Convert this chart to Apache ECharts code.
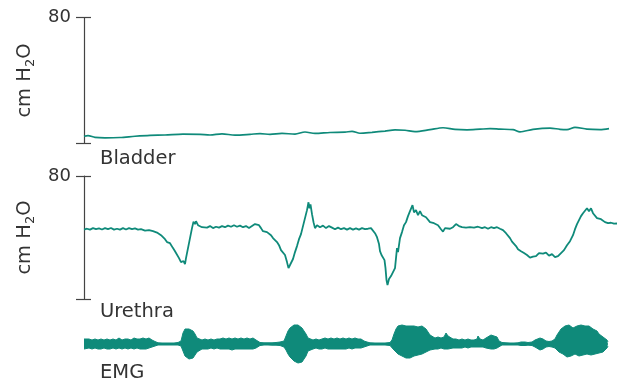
<!DOCTYPE html>
<html><head><meta charset="utf-8">
<script src="https://cdn.jsdelivr.net/npm/echarts@6/dist/echarts.min.js"></script>
<style>html,body{margin:0;padding:0;background:#fff}#c{width:619px;height:383px}</style>
</head><body><div id="c"></div>
<script>
// x positions in trace sample units (horizontal position along the recording)
const bladderX = [84,88,95,105,120,135,150,165,183,200,210,222,235,250,260,270,282,295,305,315,330,345,352,360,372,385,395,405,415,430,443,455,467,480,490,500,513,520,533,550,560,567,575,587,600,609];
const bladderY = [4.6,5.0,3.9,3.6,3.8,4.6,5.2,5.4,6.0,5.8,5.4,6.1,5.3,5.8,6.3,5.8,6.4,6.0,7.3,6.4,7.0,7.2,7.7,6.5,7.1,7.9,8.6,8.4,7.6,8.8,10.0,9.0,8.7,9.1,9.4,9.1,8.8,7.4,9.0,9.8,9.0,8.8,10.3,9.1,8.8,9.4];

const urethraX = [84,87,90,93,96,99,102,105,108,111,114,117,120,123,126,129,132,135,138,141,145,149,153,157,161,165,167,170,173,175,177,179,181,182,183.5,185,186,188,190,192,193.5,195,196,198,200,202,204,207,210,213,216,219,222,225,228,231,234,237,240,243,246,249,252,255,257,259,261,263,265,267,269,271,273,275,277,279,281,283,285,287,288.5,290,291.5,293,295,297,299,301,303,305,307,308.5,309.5,310.5,312,313.5,315,317,320,323,326,329,332,335,338,341,344,347,350,353,356,359,362,365,368,371,373,375,377,379,380,381.5,383,384.5,385.5,386.5,387.5,389,391,393,395,397,398,400,402,404,406,408,410,412.5,414,416,418,420,422,424,426,428,430,432,434,436,438,441,443,445,447,450,453,456,459,462,466,470,474,478,482,485,488,491,494,497,500,503,506,508,510,512,514,516,518,521,524,527,530,533,536,539,541,543,546,549,552,555,558,561,564,567,570,573,575,577,579,581,583,585,587,589,591,593,595,597,599,601,603,605,608,611,614,617];
const urethraY = [45.2,45.7,45.1,46.1,45.4,45.9,45.2,46.1,45.4,46.2,45.1,45.7,45.1,46.1,45.2,46.1,45.4,45.9,45.1,45.4,44.5,44.8,44.1,43.2,41.5,38.9,37.0,36.3,33.1,31.1,29.9,26.6,24.0,23.4,24.7,22.7,26.6,33.1,39.6,46.1,50.3,48.7,50.6,48.0,49.0,46.7,47.7,46.4,47.4,46.1,47.0,46.4,47.4,46.7,47.7,47.0,48.0,47.0,47.7,46.7,47.4,46.1,47.4,48.7,49.0,48.0,46.1,44.1,45.1,43.5,44.1,41.5,39.6,38.9,37.0,35.0,31.8,30.5,28.6,24.0,20.1,22.1,20.8,26.0,30.5,34.4,38.9,42.2,47.4,52.6,57.8,62.9,59.0,61.6,55.2,50.0,46.1,48.0,46.7,47.7,46.1,47.4,46.4,45.4,46.4,45.4,46.1,45.1,46.1,45.1,45.9,45.1,46.1,45.4,45.7,46.1,45.1,42.8,40.2,35.7,31.1,28.6,28.2,25.3,20.1,12.3,9.1,13.0,14.9,15.6,20.1,33.1,30.5,39.6,43.5,48.0,50.0,53.9,57.1,61.0,56.4,57.8,54.5,57.1,54.5,55.2,53.2,54.5,50.0,50.6,49.3,50.0,48.0,45.4,43.8,46.1,44.8,45.7,46.7,48.7,47.4,46.7,46.4,46.7,46.4,47.0,46.1,46.7,45.7,46.7,46.1,46.7,45.7,44.8,42.8,41.5,39.6,37.3,36.3,34.4,32.4,31.1,29.9,28.6,26.9,27.6,27.9,29.9,31.1,29.5,30.2,28.2,29.2,27.3,27.9,29.9,31.8,35.0,37.6,41.5,45.4,48.7,51.3,53.9,55.8,57.1,59.0,57.1,59.0,55.8,54.5,52.6,53.9,51.9,50.6,50.0,49.3,49.6,49.0,49.1];

// EMG envelope: upper and lower amplitude around the baseline
const emgX = [84,86,89,92,95,98,101,104,107,110,113,116,119,122,125,128,131,134,137,140,143,146,149,152,155,158,162,166,170,174,178,181,183,185,187,189,191,193,195,197,199,202,205,208,211,214,217,220,223,226,229,232,235,238,241,244,247,250,253,256,258,260,264,268,272,276,280,284,286,288,290,292,294,296,298,300,302,304,306,308,310,313,316,319,322,325,328,331,334,337,340,343,346,349,352,355,358,361,364,367,370,375,380,385,390,392,394,396,398,400,402,404,406,408,410,412,414,416,418,420,422,424,426,428,430,432,435,438,441,444,446,448,450,453,456,459,462,465,468,471,474,477,478,480,483,486,488,491,494,497,499,502,506,510,514,518,521,523,525,528,532,535,537,540,543,546,549,552,555,557,559,561,563,565,567,569,571,573,575,577,579,581,583,585,587,589,591,593,595,597,599,601,603,605,607,608];
const emgUpper = [5,4,5,4,5,4,5,4,5,4,5,4,6,4,5,5,4,6,5,5,6,5,6,4,2.5,1.2,1,1,1,1,1.5,3,11,15,16,15,14,13,10,6,5,4,5,4,5,4,5,5,6,5,6,5,6,5,6,5,6,5,6,4,3,1.5,1.2,1.2,1.2,1.5,2,3,8,13,16,18,19,19,19,18,16,14,10,6,5,4,5,4,5,6,5,6,5,6,5,6,5,6,5,6,5,5,3,2,1.2,1,1,1,1.5,4,10,15,18,17,19,19,18,20,18,17,18,18,17,18,18,16,15,12,9,7,6,7,6,7,11,8,6,5,5,4,5,4,5,4,4,5,8,5,4,6,8,9,8,7,3,1.5,1.2,1,1,1.2,2,4,2,1.5,2,4,5,6,5,3,2.5,3,5,9,12,15,17,18,17,19,17,16,18,18,17,19,19,18,20,18,16,15,14,13,10,8,7,6,4,2];
const emgLower = [5,5,4,5,4,5,5,4,5,5,4,5,4,5,4,5,4,5,4,5,5,5,4,3,2,1,1,1,1,1,1,2,7,12,14,15,14,14,12,8,6,5,5,5,4,5,4,5,5,5,5,6,5,5,5,5,5,5,5,4,3,1.5,1,1,1.2,1.2,1.5,3,6,10,13,15,17,18,19,18,18,16,12,7,5,5,4,5,5,4,5,5,5,5,5,5,5,4,5,4,4,4,3,2,1,1,1,1,1.5,3,6,8,10,11,12,13,14,15,14,13,12,12,11,11,10,9,8,7,6,6,5,5,4,5,5,5,5,4,4,4,4,3,4,3,3,3,3,3,3,4,5,5,5,4,2,1,1,1,1,1,1.5,2,1.5,1.2,1.5,3,4,6,5,3,2.5,3,4,6,8,10,10,12,13,13,12,11,10,10,12,12,11,10,10,10,11,10,10,9,9,8,8,6,4,2];

const yTicks = [0, 80];
const yTickText = ['', '80'];
const yName = '{a|cm H}{s|2}{a|O}';
const panelLabels = ['Bladder', 'Urethra', 'EMG'];

const TEAL = '#0f8a7a';
const TXT = '#333333';
const AX = '#444444';
const FONT = 'DejaVu Sans';
const zip = (xs, ys) => xs.map((x, i) => [x, ys[i]]);

const panelBoxes = [
  {left: 84, right: 2, top: 17.5, height: 126},
  {left: 84, right: 2, top: 176, height: 123},
  {left: 84, right: 2, top: 324, height: 40}
];
// grids 3 and 4 overlay grids 0 and 1; their axes carry the ticks that cross the axis line
const grids = [...panelBoxes, {...panelBoxes[0]}, {...panelBoxes[1]}];
const xAxes = grids.map((g, i) => ({type: 'value', gridIndex: i, min: 84, max: 617, show: false}));
function mainAxis(gi) {
  return {type: 'value', gridIndex: gi, position: 'left', min: yTicks[0], max: yTicks[1], interval: yTicks[1] - yTicks[0],
    axisLine: {show: true, lineStyle: {color: AX, width: 1.2}},
    axisTick: {show: false},
    axisLabel: {show: true, margin: 13, color: TXT, fontFamily: FONT, fontSize: 18,
      formatter: v => yTickText[yTicks.indexOf(v)]},
    splitLine: {show: false},
    name: yName, nameLocation: 'middle', nameRotate: 90, nameGap: 47,
    nameTextStyle: {rich: {
      a: {fontFamily: FONT, fontSize: 19.5, color: TXT},
      s: {fontFamily: FONT, fontSize: 13, color: TXT, padding: [11, 0, 0, 0]}
    }}};
}
function crossTickAxis(gi) {
  return {type: 'value', gridIndex: gi, position: 'left', offset: -7, min: yTicks[0], max: yTicks[1], interval: yTicks[1] - yTicks[0],
    axisLine: {show: false},
    axisTick: {show: true, inside: false, length: 15, lineStyle: {color: AX, width: 1.2}},
    axisLabel: {show: false}, splitLine: {show: false}};
}
const yAxes = [mainAxis(0), mainAxis(1),
  {type: 'value', gridIndex: 2, min: -20, max: 20, show: false},
  crossTickAxis(3), crossTickAxis(4)];

const option = {
  animation: false,
  grid: grids,
  xAxis: xAxes,
  yAxis: yAxes,
  series: [
    {type: 'line', xAxisIndex: 0, yAxisIndex: 0, data: zip(bladderX, bladderY), showSymbol: false,
     smooth: 0.3, lineStyle: {color: TEAL, width: 1.7}},
    {type: 'line', xAxisIndex: 1, yAxisIndex: 1, data: zip(urethraX, urethraY), showSymbol: false,
     lineStyle: {color: TEAL, width: 1.8}},
    {type: 'line', xAxisIndex: 2, yAxisIndex: 2, data: zip(emgX, emgUpper), showSymbol: false,
     lineStyle: {color: TEAL, width: 1}, areaStyle: {color: TEAL, opacity: 1, origin: 0}},
    {type: 'line', xAxisIndex: 2, yAxisIndex: 2, data: zip(emgX, emgLower.map(v => -v)), showSymbol: false,
     lineStyle: {color: TEAL, width: 1}, areaStyle: {color: TEAL, opacity: 1, origin: 0}}
  ],
  graphic: [
    {type: 'text', left: 100, top: 149, style: {text: panelLabels[0], fill: TXT, font: '19.5px "DejaVu Sans"'}},
    {type: 'text', left: 100, top: 302, style: {text: panelLabels[1], fill: TXT, font: '19.5px "DejaVu Sans"'}},
    {type: 'text', left: 100, top: 363, style: {text: panelLabels[2], fill: TXT, font: '19.5px "DejaVu Sans"'}}
  ]
};
const chart = echarts.init(document.getElementById('c'), null, {renderer: 'canvas'});
chart.setOption(option);
</script></body></html>
